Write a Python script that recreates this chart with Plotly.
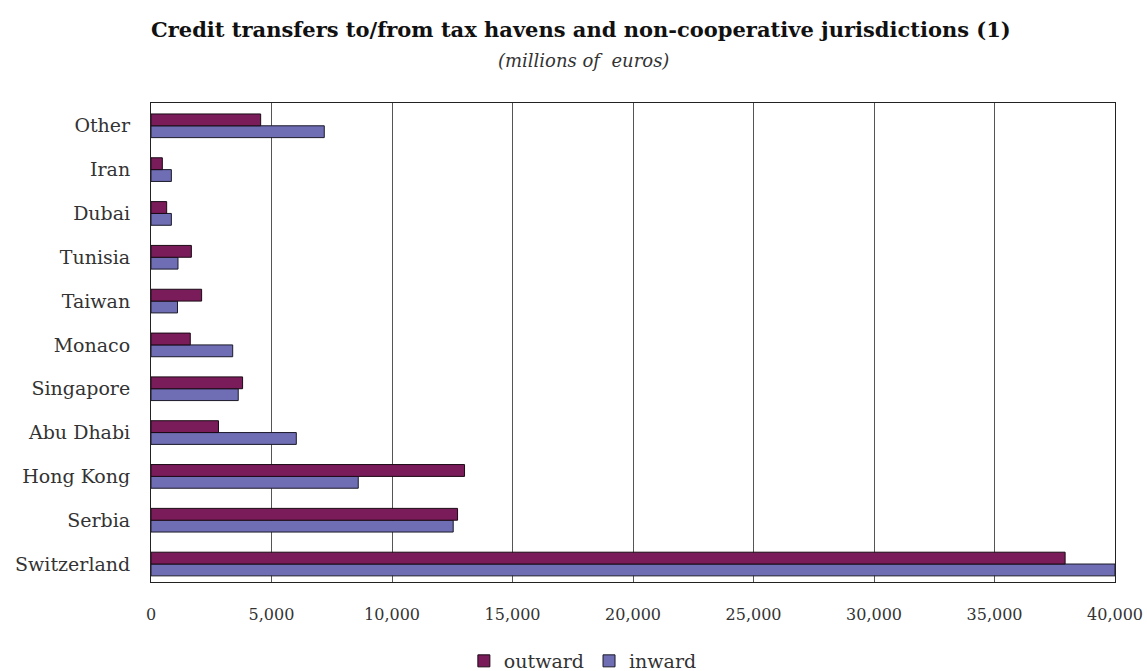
import plotly.graph_objects as go

categories = ["Switzerland", "Serbia", "Hong Kong", "Abu Dhabi", "Singapore",
              "Monaco", "Taiwan", "Tunisia", "Dubai", "Iran", "Other"]
outward = [37930, 12720, 13010, 2800, 3800, 1630, 2100, 1675, 650, 470, 4550]
inward = [40000, 12540, 8600, 6030, 3620, 3390, 1100, 1120, 845, 845, 7190]
x_ticks = [0, 5000, 10000, 15000, 20000, 25000, 30000, 35000, 40000]
x_tick_labels = ["0", "5,000", "10,000", "15,000", "20,000", "25,000", "30,000", "35,000", "40,000"]

SERIF = "DejaVu Serif, Liberation Serif, serif"

fig = go.Figure()
fig.add_trace(go.Bar(
    y=categories, x=inward, orientation="h", name="inward",
    marker=dict(color="#6F6DB3", line=dict(color="#1a1a2a", width=1)),
    legendrank=2,
))
fig.add_trace(go.Bar(
    y=categories, x=outward, orientation="h", name="outward",
    marker=dict(color="#7A1C5A", line=dict(color="#1a0a14", width=1)),
    legendrank=1,
))

PLOT_H = 671 - 103 - 89

fig.update_layout(
    width=1147, height=671,
    margin=dict(l=151, r=32, t=103, b=89, autoexpand=False),
    paper_bgcolor="white", plot_bgcolor="white",
    barmode="group", bargap=0.46, bargroupgap=0,
    font=dict(family=SERIF, color="#333333", size=17),
    showlegend=True,
    legend=dict(orientation="h", x=0.448, xanchor="center",
                y=-(661 - 582) / PLOT_H, yanchor="middle",
                font=dict(family=SERIF, size=19, color="#333333"),
                itemwidth=30, tracegroupgap=0),
)
fig.add_annotation(text="<b>Credit transfers to/from tax havens and non-cooperative jurisdictions (1)</b>",
                   x=(581 - 151) / 964, y=1 + (103 - 30) / PLOT_H, xref="paper", yref="paper",
                   xanchor="center", yanchor="middle", showarrow=False,
                   font=dict(family=SERIF, size=21, color="#111111"))
fig.add_annotation(text="<i>(millions of  euros)</i>",
                   x=(583 - 151) / 964, y=1 + (103 - 60) / PLOT_H, xref="paper", yref="paper",
                   xanchor="center", yanchor="middle", showarrow=False,
                   font=dict(family=SERIF, size=18, color="#333333"))

fig.update_xaxes(
    range=[0, 40000], tickvals=x_ticks, ticktext=x_tick_labels,
    showgrid=True, gridcolor="#555555", gridwidth=1,
    showline=True, linecolor="#222222", linewidth=1, mirror=True,
    zeroline=False, ticks="", ticklabelstandoff=18, automargin=False,
    tickfont=dict(family=SERIF, size=16, color="#333333"),
)
fig.update_yaxes(
    type="category", range=[-0.41, 10.52],
    showgrid=False, showline=True, linecolor="#222222", linewidth=1, mirror=True,
    ticks="", ticklabelstandoff=16, automargin=False,
    tickfont=dict(family=SERIF, size=19, color="#333333"),
)

fig.write_html("out.html")
